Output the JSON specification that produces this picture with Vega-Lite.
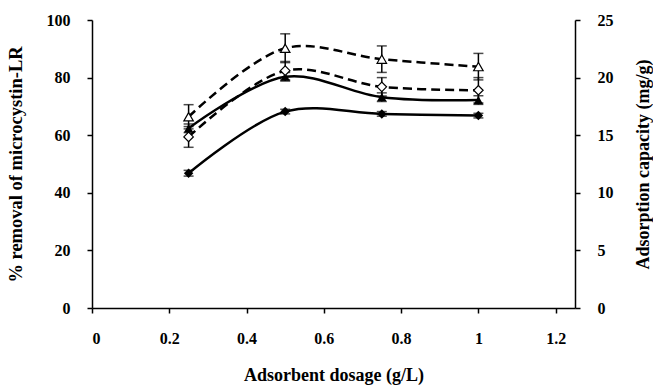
{
  "$schema": "https://vega.github.io/schema/vega-lite/v6.json",
  "width": 483,
  "height": 288,
  "autosize": {"type": "none"},
  "padding": {"left": 92, "top": 20, "right": 78, "bottom": 79},
  "background": "white",
  "config": {
    "view": {"stroke": null},
    "axis": {
      "labelFont": "Liberation Serif",
      "titleFont": "Liberation Serif",
      "labelFontWeight": "bold",
      "titleFontWeight": "bold",
      "labelFontSize": 16,
      "titleFontSize": 18,
      "labelColor": "#000",
      "titleColor": "#000",
      "domainColor": "#000",
      "tickColor": "#000",
      "grid": false,
      "domainWidth": 1.5,
      "tickWidth": 1.5,
      "tickSize": 5
    }
  },
  "datasets": {
    "removal": [
      {"dose": 0.25, "series": "Adsorbent 1", "removal": 46.8, "err": 1.0},
      {"dose": 0.5, "series": "Adsorbent 1", "removal": 68.2, "err": 0.8},
      {"dose": 0.75, "series": "Adsorbent 1", "removal": 67.4, "err": 0.8},
      {"dose": 1.0, "series": "Adsorbent 1", "removal": 66.8, "err": 0.8},
      {"dose": 0.25, "series": "Adsorbent 2", "removal": 62.4, "err": 1.5},
      {"dose": 0.5, "series": "Adsorbent 2", "removal": 80.3, "err": 1.5},
      {"dose": 0.75, "series": "Adsorbent 2", "removal": 73.2, "err": 1.5},
      {"dose": 1.0, "series": "Adsorbent 2", "removal": 72.2, "err": 1.5}
    ],
    "capacity": [
      {"dose": 0.25, "series": "Adsorbent 1", "capacity": 14.85, "err": 0.9},
      {"dose": 0.5, "series": "Adsorbent 1", "capacity": 20.6, "err": 0.8},
      {"dose": 0.75, "series": "Adsorbent 1", "capacity": 19.2, "err": 0.8},
      {"dose": 1.0, "series": "Adsorbent 1", "capacity": 18.9, "err": 1.1},
      {"dose": 0.25, "series": "Adsorbent 2", "capacity": 16.6, "err": 1.05},
      {"dose": 0.5, "series": "Adsorbent 2", "capacity": 22.55, "err": 1.25},
      {"dose": 0.75, "series": "Adsorbent 2", "capacity": 21.6, "err": 1.15},
      {"dose": 1.0, "series": "Adsorbent 2", "capacity": 20.95, "err": 1.15}
    ]
  },
  "layer": [
    {
      "data": {"name": "removal"},
      "layer": [
        {
          "mark": {"type": "line", "interpolate": "catmull-rom", "strokeWidth": 2.5, "color": "black"},
          "encoding": {
            "x": {"field": "dose", "type": "quantitative", "title": "Adsorbent dosage (g/L)", "scale": {"domain": [0, 1.25], "nice": false, "zero": false},
                  "axis": {"values": [0, 0.2, 0.4, 0.6, 0.8, 1, 1.2], "format": "~g", "labelPadding": 17, "titlePadding": 20}},
            "y": {"field": "removal", "type": "quantitative", "title": "% removal of microcystin-LR", "scale": {"domain": [0, 100], "nice": false},
                  "axis": {"values": [0, 20, 40, 60, 80, 100], "labelPadding": 17, "titlePadding": 21, "titleFontSize": 18.5}},
            "detail": {"field": "series"}
          }
        },
        {
          "mark": {"type": "errorbar", "ticks": {"size": 10, "color": "black", "thickness": 1.5}, "rule": {"color": "black", "strokeWidth": 1.5}},
          "encoding": {
            "x": {"field": "dose", "type": "quantitative", "title": "Adsorbent dosage (g/L)"},
            "y": {"field": "removal", "type": "quantitative", "title": "% removal of microcystin-LR"},
            "yError": {"field": "err"}
          }
        },
        {
          "mark": {"type": "point", "filled": true, "color": "black", "size": 90, "opacity": 1},
          "encoding": {
            "x": {"field": "dose", "type": "quantitative", "title": "Adsorbent dosage (g/L)"},
            "y": {"field": "removal", "type": "quantitative", "title": "% removal of microcystin-LR"},
            "shape": {"field": "series", "type": "nominal", "scale": {"domain": ["Adsorbent 1", "Adsorbent 2"], "range": ["diamond", "triangle-up"]}, "legend": null}
          }
        }
      ]
    },
    {
      "data": {"name": "capacity"},
      "layer": [
        {
          "mark": {"type": "line", "interpolate": "catmull-rom", "strokeWidth": 2.5, "color": "black", "strokeDash": [9, 5]},
          "encoding": {
            "x": {"field": "dose", "type": "quantitative", "title": "Adsorbent dosage (g/L)"},
            "y": {"field": "capacity", "type": "quantitative", "title": "Adsorption capacity (mg/g)", "scale": {"domain": [0, 25], "nice": false},
                  "axis": {"orient": "right", "values": [0, 5, 10, 15, 20, 25], "titleAngle": 270, "labelPadding": 17, "titlePadding": 39}},
            "detail": {"field": "series"}
          }
        },
        {
          "mark": {"type": "errorbar", "ticks": {"size": 10, "color": "black", "thickness": 1.5}, "rule": {"color": "black", "strokeWidth": 1.5}},
          "encoding": {
            "x": {"field": "dose", "type": "quantitative", "title": "Adsorbent dosage (g/L)"},
            "y": {"field": "capacity", "type": "quantitative", "title": "Adsorption capacity (mg/g)"},
            "yError": {"field": "err"}
          }
        },
        {
          "mark": {"type": "point", "filled": true, "fill": "white", "stroke": "black", "strokeWidth": 1.2, "size": 90, "opacity": 1},
          "encoding": {
            "x": {"field": "dose", "type": "quantitative", "title": "Adsorbent dosage (g/L)"},
            "y": {"field": "capacity", "type": "quantitative", "title": "Adsorption capacity (mg/g)"},
            "shape": {"field": "series", "type": "nominal", "legend": null}
          }
        }
      ]
    }
  ],
  "resolve": {"scale": {"y": "independent"}}
}
